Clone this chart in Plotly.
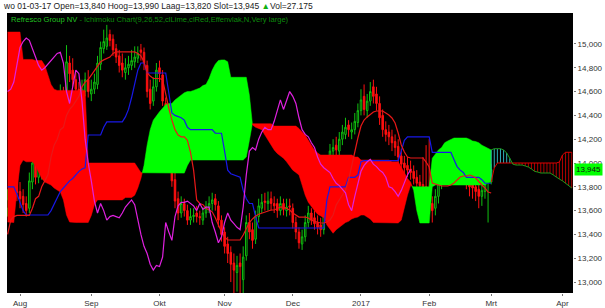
import plotly.graph_objects as go

# ---------------- data (trading-day index, 0 = 1 Aug 2016) ----------------
first_day = -4
tick_days = [0, 23, 45, 66, 88, 110, 132, 152, 175]
tick_labels = ["Aug", "Sep", "Okt", "Nov", "Dec", "2017", "Feb", "Mrt", "Apr"]
price_ticks = [13.0, 13.2, 13.4, 13.6, 13.8, 14.0, 14.2, 14.4, 14.6, 14.8, 15.0]
price_tick_text = ["13,000", "13,200", "13,400", "13,600", "13,800", "14,000",
                   "14,200", "14,400", "14,600", "14,800", "15,000"]

close = [13.70, 14.15, 13.95, 13.75, 13.70, 13.65, 13.60, 13.85, 14.00, 13.88,
         13.95, 14.05, 13.98, 14.10, 14.35, 14.45, 14.40, 14.60, 14.55, 14.85,
         14.75, 14.70, 14.62, 14.55, 14.62, 14.70, 14.60, 14.62, 14.68, 14.84,
         14.97, 15.02, 15.05, 15.03, 14.95, 14.89, 14.82, 14.78, 14.80, 14.83,
         14.86, 14.89, 14.92, 14.93, 14.84, 14.60, 14.50, 14.64, 14.78, 14.75,
         14.52, 14.20, 14.00, 13.85, 13.68, 13.58, 13.66, 13.60, 13.52, 13.55,
         13.56, 13.55, 13.54, 13.58, 13.63, 13.66, 13.69, 13.65, 13.52, 13.40,
         13.30, 13.24, 13.15, 13.10, 13.14, 13.13, 13.21, 13.50, 13.42, 13.35,
         13.55, 13.64, 13.67, 13.67, 13.68, 13.66, 13.64, 13.60, 13.66, 13.61,
         13.63, 13.63, 13.50, 13.42, 13.33, 13.38, 13.50, 13.58, 13.52, 13.49,
         13.46, 13.44, 13.63, 13.90, 14.10, 14.13, 14.11, 14.20, 14.26, 14.30,
         14.28, 14.28, 14.35, 14.44, 14.53, 14.45, 14.52, 14.60, 14.56, 14.50,
         14.38, 14.28, 14.24, 14.22, 14.17, 14.13, 14.05, 13.99, 13.96, 13.94,
         13.92, 13.87, 13.83, 13.81, 13.78, 13.75, 13.65, 13.60, 13.72, 13.83,
         13.93, 13.98, 14.01, 14.03, 13.99, 13.97, 13.94, 13.92, 13.88, 13.80,
         13.79, 13.76, 13.72, 13.77, 13.84, 13.90, 13.945]
open_ = [13.62, 13.68, 14.12, 13.96, 13.76, 13.72, 13.66, 13.62, 13.84, 14.00,
         13.88, 13.92, 14.05, 13.98, 14.08, 14.33, 14.46, 14.40, 14.60, 14.56,
         14.84, 14.78, 14.70, 14.62, 14.55, 14.60, 14.70, 14.58, 14.62, 14.66,
         14.83, 14.96, 14.98, 15.08, 15.04, 14.96, 14.90, 14.84, 14.76, 14.80,
         14.82, 14.85, 14.88, 14.95, 14.93, 14.82, 14.62, 14.52, 14.64, 14.80,
         14.74, 14.50, 14.22, 14.00, 13.86, 13.70, 13.58, 13.66, 13.60, 13.52,
         13.55, 13.58, 13.55, 13.52, 13.58, 13.62, 13.66, 13.70, 13.64, 13.52,
         13.42, 13.32, 13.25, 13.16, 13.08, 13.16, 13.02, 13.22, 13.50, 13.44,
         13.36, 13.55, 13.62, 13.68, 13.66, 13.70, 13.66, 13.66, 13.60, 13.66,
         13.60, 13.64, 13.62, 13.50, 13.42, 13.32, 13.38, 13.50, 13.58, 13.54,
         13.50, 13.48, 13.44, 13.64, 13.92, 14.10, 14.15, 14.10, 14.20, 14.24,
         14.32, 14.26, 14.28, 14.34, 14.44, 14.56, 14.44, 14.52, 14.64, 14.58,
         14.50, 14.40, 14.28, 14.26, 14.22, 14.18, 14.14, 14.06, 14.00, 13.98,
         13.95, 13.93, 13.88, 13.84, 13.82, 13.80, 13.76, 13.66, 13.62, 13.72,
         13.82, 13.92, 14.02, 14.00, 14.05, 14.00, 13.98, 13.96, 13.94, 13.88,
         13.82, 13.80, 13.78, 13.72, 13.76, 13.84, 13.84]
high = [13.78, 14.26, 14.22, 14.02, 13.84, 13.78, 13.72, 13.92, 14.06, 14.08,
        14.02, 14.12, 14.10, 14.16, 14.45, 14.52, 14.55, 14.66, 14.64, 14.99,
        14.90, 14.88, 14.76, 14.68, 14.70, 14.76, 14.78, 14.70, 14.75, 14.90,
        15.02, 15.12, 15.16, 15.12, 15.08, 15.00, 14.95, 14.92, 14.88, 14.90,
        14.95, 14.98, 14.98, 15.00, 14.97, 14.86, 14.70, 14.72, 14.84, 14.86,
        14.78, 14.55, 14.28, 14.06, 13.92, 13.76, 13.72, 13.70, 13.65, 13.62,
        13.62, 13.64, 13.60, 13.63, 13.68, 13.72, 13.75, 13.74, 13.68, 13.56,
        13.46, 13.38, 13.30, 13.24, 13.22, 13.24, 13.30, 13.56, 13.58, 13.50,
        13.60, 13.70, 13.74, 13.75, 13.76, 13.76, 13.72, 13.70, 13.72, 13.70,
        13.70, 13.70, 13.66, 13.55, 13.46, 13.44, 13.56, 13.64, 13.62, 13.60,
        13.56, 13.54, 13.68, 13.96, 14.16, 14.20, 14.22, 14.26, 14.32, 14.38,
        14.36, 14.34, 14.42, 14.50, 14.62, 14.66, 14.58, 14.68, 14.70, 14.64,
        14.56, 14.45, 14.35, 14.32, 14.28, 14.24, 14.20, 14.12, 14.06, 14.05,
        14.02, 13.98, 13.94, 13.90, 14.05, 14.15, 14.20, 13.72, 13.78, 13.88,
        14.00, 14.06, 14.12, 14.10, 14.10, 14.06, 14.04, 14.02, 14.00, 13.95,
        13.90, 13.86, 13.84, 13.84, 13.90, 13.96, 13.99]
low = [13.55, 13.62, 13.88, 13.68, 13.62, 13.58, 13.55, 13.58, 13.78, 13.82,
       13.83, 13.86, 13.92, 13.94, 14.02, 14.26, 14.32, 14.36, 14.48, 14.52,
       14.68, 14.64, 14.58, 14.50, 14.50, 14.56, 14.55, 14.52, 14.58, 14.62,
       14.78, 14.92, 14.95, 14.98, 14.90, 14.84, 14.76, 14.72, 14.70, 14.74,
       14.78, 14.80, 14.84, 14.86, 14.78, 14.55, 14.45, 14.48, 14.60, 14.68,
       14.48, 14.15, 13.94, 13.80, 13.62, 13.52, 13.54, 13.55, 13.48, 13.48,
       13.50, 13.50, 13.48, 13.48, 13.54, 13.58, 13.60, 13.60, 13.46, 13.34,
       13.24, 13.16, 13.00, 12.90, 12.92, 12.88, 12.88, 13.18, 13.36, 13.28,
       13.32, 13.50, 13.58, 13.60, 13.60, 13.60, 13.58, 13.54, 13.56, 13.56,
       13.55, 13.56, 13.45, 13.36, 13.28, 13.27, 13.34, 13.46, 13.48, 13.44,
       13.40, 13.38, 13.40, 13.60, 13.88, 14.04, 14.05, 14.06, 14.15, 14.20,
       14.22, 14.20, 14.24, 14.30, 14.40, 14.40, 14.38, 14.48, 14.50, 14.44,
       14.32, 14.22, 14.18, 14.15, 14.10, 14.06, 14.00, 13.92, 13.90, 13.88,
       13.86, 13.82, 13.78, 13.74, 13.72, 13.68, 13.60, 13.50, 13.56, 13.66,
       13.78, 13.86, 13.92, 13.94, 13.92, 13.90, 13.86, 13.82, 13.78, 13.72,
       13.70, 13.68, 13.62, 13.64, 13.70, 13.50, 13.82]

tenkan = [13.40, 13.52, 13.55, 13.56, 13.56, 13.56, 13.56, 13.56, 13.62, 13.70,
          13.72, 13.80, 13.85, 13.90, 14.05, 14.15, 14.20, 14.28, 14.30, 14.40,
          14.45, 14.48, 14.52, 14.56, 14.64, 14.68, 14.70, 14.74, 14.78, 14.82,
          14.85, 14.866, 14.88, 14.89, 14.92, 14.933, 14.933, 14.933, 14.933, 14.933,
          14.933, 14.933, 14.92, 14.90, 14.85, 14.76, 14.73, 14.71, 14.71, 14.71,
          14.70, 14.57, 14.46, 14.36, 14.28, 14.235, 14.22, 14.22, 14.19, 14.09,
          13.94, 13.69, 13.66, 13.65, 13.62, 13.605, 13.59, 13.54, 13.48, 13.42,
          13.38, 13.353, 13.353, 13.353, 13.353, 13.353, 13.395, 13.454, 13.50, 13.53,
          13.555, 13.57, 13.58, 13.59, 13.60, 13.605, 13.605, 13.62, 13.63, 13.63,
          13.62, 13.605, 13.58, 13.563, 13.546, 13.546, 13.546, 13.538, 13.52, 13.51,
          13.50, 13.496, 13.496, 13.504, 13.521, 13.563, 13.647, 13.689, 13.731, 13.773,
          13.857, 13.983, 14.092, 14.21, 14.311, 14.361, 14.387, 14.412, 14.429, 14.437,
          14.437, 14.437, 14.42, 14.403, 14.378, 14.336, 14.252, 14.151, 14.092, 14.05,
          14.042, 14.042, 14.042, 14.042, 14.042, 14.008, 13.966, 13.832, 13.823, 13.815,
          13.807, 13.807, 13.807, 13.815, 13.832, 13.857, 13.882, 13.891, 13.891, 13.899,
          13.891, 13.874, 13.84, 13.815, 13.79, 13.756, 13.748]
kijun = [13.80, 13.80, 13.80, 13.74, 13.66, 13.60, 13.563, 13.563, 13.563, 13.563,
         13.563, 13.563, 13.563, 13.563, 13.60, 13.65, 13.70, 13.76, 13.79, 13.82,
         13.85, 13.87, 13.90, 13.93, 13.95, 13.96, 14.235, 14.235, 14.235, 14.235,
         14.235, 14.30, 14.345, 14.345, 14.345, 14.345, 14.345, 14.345, 14.387, 14.45,
         14.55, 14.68, 14.78, 14.84, 14.84, 14.756, 14.756, 14.756, 14.756, 14.756,
         14.756, 14.756, 14.59, 14.42, 14.40, 14.39, 14.38, 14.36, 14.30, 14.28,
         14.28, 14.28, 14.28, 14.28, 14.28, 14.28, 14.28, 14.25, 14.25, 14.25,
         14.10, 13.94, 13.91, 13.90, 13.89, 13.88, 13.77, 13.70, 13.66, 13.66,
         13.55, 13.454, 13.454, 13.454, 13.454, 13.454, 13.454, 13.454, 13.454, 13.454,
         13.454, 13.454, 13.454, 13.454, 13.454, 13.454, 13.454, 13.454, 13.454, 13.454,
         13.454, 13.454, 13.454, 13.69, 13.80, 13.80, 13.80, 13.80, 13.80, 13.80,
         13.88, 13.88, 13.88, 13.90, 14.01, 14.02, 14.02, 14.02, 14.02, 14.02,
         14.02, 14.02, 14.02, 14.02, 14.02, 14.02, 14.02, 14.10, 14.19, 14.22,
         14.22, 14.22, 14.22, 14.22, 14.22, 14.22, 14.22, 14.09, 14.09, 14.09,
         14.09, 14.09, 14.09, 14.09, 14.03, 13.97, 13.94, 13.92, 13.88, 13.88,
         13.88, 13.88, 13.88, 13.86, 13.83, 13.83, 13.83]

# Senkou spans (already shifted 26 days forward), day -4 .. 178
span_a = [13.504, 13.504, 13.50, 13.77, 13.98, 14.025, 14.01, 14.01, 14.01, 13.98,
          13.92, 13.87, 13.84, 13.83, 13.815, 13.79, 13.77, 13.756, 13.69, 13.563,
          13.504, 13.50, 13.50, 13.50, 13.50, 13.50, 13.50, 13.56, 13.65, 13.69,
          13.69, 13.69, 13.69, 13.69, 13.69, 13.69, 13.69, 13.69, 13.71, 13.71,
          13.71, 13.73, 13.79, 13.87, 13.98, 14.15, 14.28, 14.36, 14.40, 14.43,
          14.46, 14.49, 14.50, 14.50, 14.53, 14.55, 14.57, 14.59, 14.60, 14.60,
          14.61, 14.62, 14.63, 14.65, 14.66, 14.71, 14.78, 14.83, 14.86, 14.866,
          14.866, 14.85, 14.72, 14.72, 14.72, 14.72, 14.72, 14.72, 14.57, 14.32,
          14.30, 14.29, 14.28, 14.235, 14.19, 14.15, 14.11, 14.08, 14.06, 14.04,
          14.01, 13.97, 13.94, 13.92, 13.90, 13.815, 13.73, 13.67, 13.63, 13.60,
          13.57, 13.555, 13.54, 13.48, 13.44, 13.41, 13.44, 13.46, 13.48, 13.50,
          13.51, 13.53, 13.54, 13.546, 13.563, 13.563, 13.546, 13.53, 13.50, 13.50,
          13.50, 13.50, 13.50, 13.50, 13.496, 13.496, 13.496, 13.52, 13.63, 13.73,
          13.81, 13.80, 13.80, 13.80, 13.80, 13.80, 13.80, 14.04, 14.08, 14.11,
          14.13, 14.17, 14.185, 14.20, 14.21, 14.21, 14.21, 14.21, 14.21, 14.20,
          14.185, 14.18, 14.17, 14.15, 14.135, 14.12, 14.11, 14.12, 14.12, 14.12,
          14.11, 14.084, 14.04, 13.99, 13.983, 13.983, 13.983, 13.975, 13.966, 13.95,
          13.93, 13.924, 13.916, 13.916, 13.916, 13.916, 13.90, 13.88, 13.865, 13.85,
          13.83, 13.815, 13.79]
span_b = [15.10, 15.10, 15.10, 15.10, 15.10, 14.87, 14.87, 14.87, 14.87, 14.86,
          14.86, 14.86, 14.82, 14.74, 14.66, 14.62, 14.61, 14.61, 14.61, 14.61,
          14.61, 14.61, 14.61, 14.61, 14.61, 14.61, 14.00, 14.00, 14.00, 14.00,
          14.00, 14.00, 14.00, 14.00, 14.00, 14.00, 14.00, 14.00, 14.00, 14.00,
          14.00, 14.00, 13.96, 13.92, 13.915, 13.915, 13.915, 13.915, 13.915, 13.915,
          13.915, 13.915, 13.915, 13.915, 13.915, 13.915, 13.915, 13.915, 13.98, 14.025,
          14.025, 14.025, 14.025, 14.025, 14.025, 14.025, 14.025, 14.025, 14.025, 14.025,
          14.025, 14.025, 14.025, 14.025, 14.025, 14.025, 14.025, 14.05, 14.19, 14.336,
          14.33, 14.33, 14.33, 14.33, 14.33, 14.33, 14.31, 14.31, 14.31, 14.31,
          14.31, 14.31, 14.31, 14.31, 14.29, 14.26, 14.235, 14.19, 14.15, 14.11,
          14.084, 14.067, 14.067, 14.067, 14.067, 14.067, 14.067, 14.067, 14.067, 14.067,
          14.067, 14.067, 14.05, 14.05, 14.025, 14.025, 14.025, 14.025, 14.025, 14.025,
          14.025, 14.025, 14.025, 14.025, 14.01, 14.01, 14.01, 13.966, 13.92, 13.87,
          13.84, 13.77, 13.60, 13.496, 13.496, 13.496, 13.496, 13.80, 13.815, 13.815,
          13.815, 13.815, 13.815, 13.815, 13.815, 13.815, 13.815, 13.815, 13.815, 13.815,
          13.815, 13.815, 13.815, 13.815, 13.815, 13.832, 13.84, 13.958, 14.00, 14.00,
          14.00, 14.00, 14.00, 14.00, 14.00, 14.00, 14.00, 14.00, 14.00, 14.00,
          14.00, 14.00, 14.00, 14.00, 14.00, 14.00, 14.00, 14.00, 14.008, 14.067,
          14.09, 14.09, 14.09]

last_price = 13.945
header = "wo 01-03-17 Open=13,840 Hoog=13,990 Laag=13,820 Slot=13,945 "
volume_text = "Vol=27.175"
chart_name = "Refresco Group NV"
chart_desc = " - Ichimoku Chart(9,26,52,clLime,clRed,Effenvlak,N,Very large)"

# ---------------- build ----------------
days = list(range(first_day, first_day + len(close)))
cloud_days = list(range(first_day, first_day + len(span_a)))
last_day = days[-1]
shift = 26

fig = go.Figure()


def cloud_polys(xs, a, b):
    """split region between a and b into same-sign polygons"""
    polys = []
    cur_x, cur_a, cur_b = [xs[0]], [a[0]], [b[0]]
    cur_sign = a[0] >= b[0]
    for i in range(1, len(xs)):
        s = a[i] >= b[i]
        if s != cur_sign:
            d0 = a[i - 1] - b[i - 1]
            d1 = a[i] - b[i]
            t = d0 / (d0 - d1) if d0 != d1 else 0.5
            cx = xs[i - 1] + t * (xs[i] - xs[i - 1])
            cy = a[i - 1] + t * (a[i] - a[i - 1])
            cur_x.append(cx); cur_a.append(cy); cur_b.append(cy)
            polys.append((cur_sign, cur_x, cur_a, cur_b))
            cur_x, cur_a, cur_b = [cx], [cy], [cy]
            cur_sign = s
        cur_x.append(xs[i]); cur_a.append(a[i]); cur_b.append(b[i])
    polys.append((cur_sign, cur_x, cur_a, cur_b))
    return polys


n_hist = last_day - first_day + 1
hx = cloud_days[:n_hist]
for bull, px, pa, pb in cloud_polys(hx, span_a[:n_hist], span_b[:n_hist]):
    fig.add_trace(go.Scatter(
        x=px + px[::-1], y=pa + pb[::-1], mode="lines", fill="toself",
        fillcolor="#00ff00" if bull else "#ff0000",
        line=dict(width=0.5, color="#00ff00" if bull else "#ff0000"),
        hoverinfo="skip"))

# future cloud: hatched vertical lines
fx = cloud_days[n_hist - 1:]
fa = span_a[n_hist - 1:]
fb = span_b[n_hist - 1:]
for bull, col in [(True, "#2fa9b5"), (False, "#b00000")]:
    xs, ys = [], []
    for d, a, b in zip(fx, fa, fb):
        if (a >= b) == bull:
            xs += [d, d, None]
            ys += [a, b, None]
    fig.add_trace(go.Scatter(x=xs, y=ys, mode="lines",
                             line=dict(color=col, width=1), hoverinfo="skip"))
fig.add_trace(go.Scatter(x=fx, y=fb, mode="lines",
                         line=dict(color="#e00000", width=1), hoverinfo="skip"))
fig.add_trace(go.Scatter(x=fx, y=fa, mode="lines",
                         line=dict(color="#1c9a1c", width=1), hoverinfo="skip"))

# lines
fig.add_trace(go.Scatter(x=days, y=kijun, mode="lines",
                         line=dict(color="#1818e8", width=1.2), hoverinfo="skip"))
fig.add_trace(go.Scatter(x=days, y=tenkan, mode="lines",
                         line=dict(color="#e81818", width=1.2), hoverinfo="skip"))
fig.add_trace(go.Scatter(x=days[:-shift], y=close[shift:], mode="lines",
                         line=dict(color="#e020e0", width=1.2), hoverinfo="skip"))

# candles
fig.add_trace(go.Candlestick(
    x=days, open=open_, high=high, low=low, close=close,
    increasing=dict(line=dict(color="#10c010", width=1), fillcolor="rgba(0,0,0,0)"),
    decreasing=dict(line=dict(color="#ff1010", width=1), fillcolor="#ff1010"),
    whiskerwidth=0, hoverinfo="skip"))

fig.update_layout(
    width=605, height=308, autosize=False,
    margin=dict(l=7, r=32, t=13, b=15),
    paper_bgcolor="white", plot_bgcolor="black",
    showlegend=False,
    font=dict(family="Liberation Sans, Arial, sans-serif", size=8, color="#222"),
    xaxis=dict(range=[-4.2, 178.4], tickvals=tick_days, ticktext=tick_labels,
               ticks="outside", ticklen=2, tickcolor="#777", showgrid=False,
               zeroline=False, showline=False, rangeslider=dict(visible=False),
               automargin=False, tickfont=dict(size=8, color="#333")),
    yaxis=dict(range=[12.908, 15.26], side="right", tickvals=price_ticks,
               ticktext=price_tick_text, ticks="outside", ticklen=2,
               tickcolor="#777", showgrid=False, zeroline=False, showline=False,
               automargin=False, tickfont=dict(size=8, color="#333")),
)

fig.add_annotation(
    xref="paper", yref="paper", x=-0.011, y=1, xanchor="left", yanchor="bottom",
    showarrow=False, font=dict(size=8.5, color="#222"),
    text=header + "<span style='color:#10b010'>▲</span>" + volume_text)
fig.add_annotation(
    xref="paper", yref="paper", x=0.003, y=1, xanchor="left", yanchor="top",
    showarrow=False, font=dict(size=7.6),
    text="<span style='color:#20c020'>" + chart_name + "</span>"
         "<span style='color:#0c8a0c'>" + chart_desc + "</span>")
fig.add_annotation(
    xref="paper", yref="y", x=1, y=last_price, xanchor="left", yanchor="middle",
    xshift=1, showarrow=False, bgcolor="#00ff00", borderpad=1,
    font=dict(size=8, color="#111"),
    text=f"{last_price:.3f}".replace(".", ","))

fig.write_html("out.html")
